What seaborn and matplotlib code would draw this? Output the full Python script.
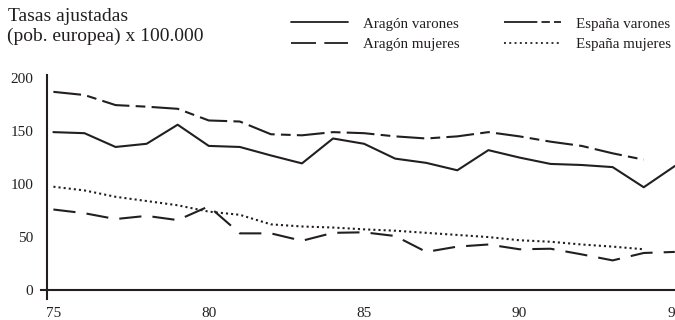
import matplotlib
matplotlib.use("Agg")
import matplotlib.pyplot as plt
from matplotlib.lines import Line2D
import seaborn as sns
import pandas as pd

years = list(range(75, 96))
aragon_varones = [149, 148, 135, 138, 156, 136, 135, 127, 119.5, 143, 138, 124, 120, 113, 132,
                  125, 119, 118, 116, 97, 117]
espana_varones = [187, 184, 174.5, 173, 171, 160, 159, 147, 146, 149, 148, 145, 143, 145, 149,
                  145, 140, 136, 129, 123]
aragon_mujeres = [76, 72.5, 67, 70, 66, 79, 53.5, 53.5, 46.5, 54, 54.5, 51, 36, 41, 43,
                  38.5, 39, 33.7, 28, 35, 36]
espana_mujeres = [97.5, 94, 88, 84, 80, 74, 71, 62, 60, 59, 57.3, 56, 54, 52, 50,
                  47, 45.6, 43, 41, 38.5]

series_names = ["Aragón varones", "Aragón mujeres", "España varones", "España mujeres"]
x_ticks = [75, 80, 85, 90, 95]
y_ticks = [0, 50, 100, 150, 200]

rows = []
for name, vals in zip(series_names, [aragon_varones, aragon_mujeres, espana_varones, espana_mujeres]):
    for y, v in zip(years, vals):
        rows.append({"year": y, "value": v, "serie": name})
df = pd.DataFrame(rows)

sns.set_style("white")
plt.rcParams["font.family"] = ["Liberation Serif", "DejaVu Serif"]
plt.rcParams["lines.scale_dashes"] = False

ink = "#231f20"
dash_styles = {
    "Aragón varones": "",
    "Aragón mujeres": (16, 8),
    "España varones": (20, 4.5, 7, 4.5),
    "España mujeres": (1.5, 2.2),
}
legend_dashes = {
    "Aragón varones": None,
    "Aragón mujeres": (18, 6),
    "España varones": (24, 3, 6, 3, 6, 4),
    "España mujeres": (1.4, 2.4),
}
palette = {n: ink for n in series_names}

fig = plt.figure(figsize=(6.75, 3.2), dpi=100)
ax = fig.add_axes([0.0607, 0.067, 0.939, 0.699])

sns.lineplot(data=df, x="year", y="value", hue="serie", style="serie",
             palette=palette, dashes=dash_styles, linewidth=1.5, ax=ax,
             legend=False, hue_order=series_names, style_order=series_names)

ax.set_xlim(74.6, 95.0)
ax.set_ylim(-8, 203)
ax.set_xticks(x_ticks)
ax.set_yticks(y_ticks)
ax.set_xticklabels([str(t) for t in x_ticks])
ax.set_yticklabels([str(t) for t in y_ticks])
ax.set_xlabel("")
ax.set_ylabel("")

for s in ["top", "right"]:
    ax.spines[s].set_visible(False)
ax.spines["left"].set_position(("data", 74.8))
ax.spines["bottom"].set_position(("data", 0))
for s in ["left", "bottom"]:
    ax.spines[s].set_color(ink)
    ax.spines[s].set_linewidth(1.5)
ax.tick_params(axis="y", length=0, pad=10, labelsize=11, colors=ink)
ax.tick_params(axis="x", length=0, pad=12, labelsize=11, colors=ink)

fig.text(0.012, 0.947, "Tasas ajustadas", fontsize=14, color=ink, va="center", ha="left")
fig.text(0.010, 0.8875, "(pob. europea) x 100.000", fontsize=14, color=ink, va="center", ha="left")

def handle(name):
    d = legend_dashes[name]
    h = Line2D([], [], color=ink, linewidth=1.3)
    if d:
        h.set_dashes(d)
    return h

common = dict(loc="upper left", frameon=False, borderpad=0, handlelength=3.8,
              handletextpad=0.98, labelspacing=0.45, fontsize=10.8)
leg1 = fig.legend([handle("Aragón varones"), handle("Aragón mujeres")],
                  ["Aragón varones", "Aragón mujeres"],
                  bbox_to_anchor=(0.4207, 0.97), **common)
for t in leg1.get_texts():
    t.set_color(ink)
leg2 = fig.legend([handle("España varones"), handle("España mujeres")],
                  ["España varones", "España mujeres"],
                  bbox_to_anchor=(0.736, 0.97), **common)
for t in leg2.get_texts():
    t.set_color(ink)

fig.savefig("out.png", dpi=100)
